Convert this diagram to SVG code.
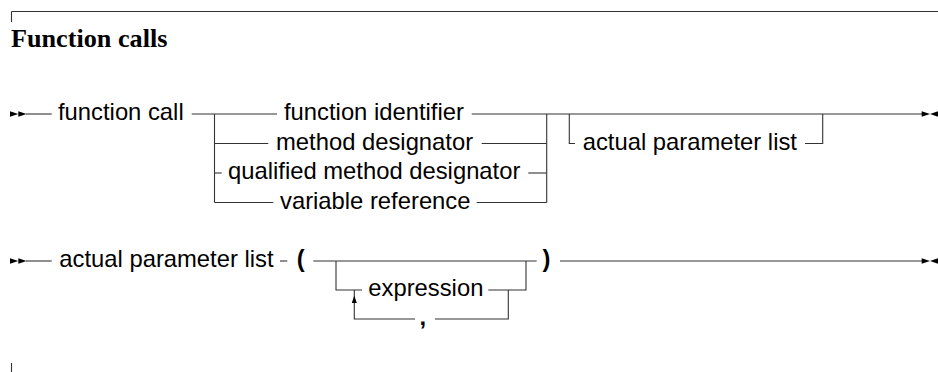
<svg xmlns="http://www.w3.org/2000/svg" width="938" height="372" viewBox="0 0 938 372">
<style>
.t{font-family:"Liberation Sans",Arial,sans-serif;font-size:23.8px;fill:#000}
.b{font-weight:bold}
.title{font-family:"Liberation Serif","Times New Roman",serif;font-size:26.2px;font-weight:bold;fill:#000}
.c{fill:none;stroke:#333;stroke-width:1.1}
.ar{fill:#000}
</style>
<rect width="938" height="372" fill="#fff"/>
<g id="frame">
<path class="c" d="M11.5,11.5 H938 M11.5,11.5 V22 M11.5,363 V372"/>
<text class="title" x="11" y="46.5">Function calls</text>
</g>
<g id="connectors">
<!-- row 1 -->
<path class="c" d="M26,114 H51.7"/>
<path class="c" d="M191.7,114 H277"/>
<path class="c" d="M214.5,114 V202.5"/>
<path class="c" d="M214.5,143.5 H268.3"/>
<path class="c" d="M214.5,173 H221.7"/>
<path class="c" d="M214.5,202.5 H273.3"/>
<path class="c" d="M471.7,114 H922"/>
<path class="c" d="M481.7,143.5 H546.7"/>
<path class="c" d="M528.3,173 H546.7"/>
<path class="c" d="M476.7,202.5 H546.7"/>
<path class="c" d="M546.7,114 V202.5"/>
<path class="c" d="M569.3,114 V143.5 H575"/>
<path class="c" d="M805,143.5 H822.7 V114"/>
<polygon class="ar" points="10,111.3 10,116.7 18.3,114"/>
<polygon class="ar" points="18.3,111.3 18.3,116.7 26.6,114"/>
<polygon class="ar" points="921.7,111.3 921.7,116.7 930,114"/>
<polygon class="ar" points="938,111.3 938,116.7 930,114"/>
<!-- row 2 -->
<path class="c" d="M26,261 H51.7"/>
<path class="c" d="M280,261 H287.3"/>
<path class="c" d="M313.3,261 H536.7"/>
<path class="c" d="M336,261 V290 H362"/>
<path class="c" d="M488.3,290 H526 V261"/>
<path class="c" d="M508.3,290 V319 H435"/>
<path class="c" d="M415,319 H354.3 V290"/>
<path class="c" d="M560,261 H922"/>
<polygon class="ar" points="351.8,303 356.8,303 354.3,295.5"/>
<polygon class="ar" points="10,258.3 10,263.7 18.3,261"/>
<polygon class="ar" points="18.3,258.3 18.3,263.7 26.6,261"/>
<polygon class="ar" points="921.7,258.3 921.7,263.7 930,261"/>
<polygon class="ar" points="938,258.3 938,263.7 930,261"/>
</g>
<g id="n-function-call"><text class="t" x="58" y="120.3">function call</text></g>
<g id="n-function-identifier"><text class="t" x="284" y="120.3">function identifier</text></g>
<g id="n-method-designator"><text class="t" x="276" y="149.8">method designator</text></g>
<g id="n-qualified-method-designator"><text class="t" x="228" y="179.3">qualified method designator</text></g>
<g id="n-variable-reference"><text class="t" x="280" y="208.8">variable reference</text></g>
<g id="n-actual-parameter-list-ref"><text class="t" x="582.7" y="149.8">actual parameter list</text></g>
<g id="n-actual-parameter-list"><text class="t" x="59.3" y="267.3">actual parameter list</text></g>
<g id="n-lparen"><text class="t b" x="296.7" y="267.3">(</text></g>
<g id="n-expression"><text class="t" x="368.3" y="296.3">expression</text></g>
<g id="n-comma"><text class="t b" x="419.5" y="325.3">,</text></g>
<g id="n-rparen"><text class="t b" x="542.5" y="267.3">)</text></g>
</svg>
